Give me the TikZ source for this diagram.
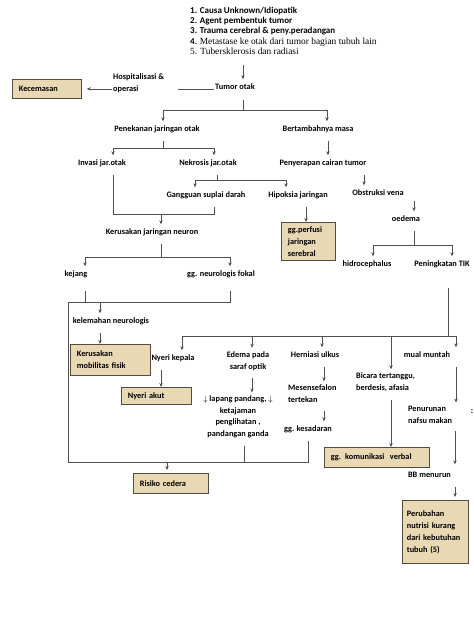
\documentclass[tikz,border=0pt]{standalone}
\usepackage{fontspec}
\setmainfont{Carlito}
\newfontfamily\serifku{Liberation Serif}
\usetikzlibrary{arrows.meta}
\definecolor{garis}{RGB}{80,80,80}
\definecolor{kotakisi}{RGB}{233,216,180}
\definecolor{kotakgaris}{RGB}{85,75,65}
\hyphenpenalty=10000
\exhyphenpenalty=10000

\begin{document}
\begin{tikzpicture}[x=1pt,y=-1pt,
  lbl/.style={font=\fontsize{8.3}{12}\selectfont\bfseries, inner xsep=1pt, inner ysep=3.5pt, text height=6pt, text depth=2pt},
  lblm/.style={font=\fontsize{8.3}{12}\selectfont\bfseries, inner xsep=1pt, inner ysep=3.5pt},
  kotak/.style={lblm, anchor=north west, draw=kotakgaris, fill=kotakisi, line width=0.8pt, inner xsep=6.5pt, align=left},
  ln/.style={draw=garis, line width=0.6pt},
  arr/.style={ln, -{Stealth[length=4pt,width=3.4pt]}},
  dari/.style={shorten <=4pt},
  kekotak/.style={shorten >=3pt}]
  \useasboundingbox (0,0) rectangle (474,632);
  % Sebab tumor
  \node[anchor=north west, inner sep=0pt, align=left, font=\fontsize{9}{10.2}\selectfont] (sebab) at (190,7)
    {\textbf{1. Causa Unknown/Idiopatik}\\ \textbf{2. Agent pembentuk tumor}\\
     \textbf{3. Trauma cerebral \& peny.peradangan}\\
     \textbf{4.} {\serifku\fontsize{9.4}{10.2}\selectfont Metastase ke otak dari tumor bagian tubuh lain}\\
     {\serifku\fontsize{9.4}{10.2}\selectfont 5. Tubersklerosis dan radiasi}};
  \node[lbl] (tumor) at (235,87) {Tumor otak};
  \node[lblm, align=left, anchor=west] (hosp) at (112,83) {Hospitalisasi \&\\operasi};
  \node[kotak, text width=56pt, minimum height=19pt] (cemas) at (12,79) {Kecemasan};
  \draw[arr, shorten <=10pt] (sebab.south -| 243,0) -- (tumor.north -| 243,0);
  \draw[ln] (tumor.base west) -- ++(-36,0);
  \draw[arr] (hosp.west |- cemas.east) -- ([xshift=5pt]cemas.east);
  % Cabang kiri
  \node[lbl] (pene) at (157,129) {Penekanan jaringan otak};
  \node[lbl] (masa) at (318,129) {Bertambahnya masa};
  \coordinate (j1) at (243,110);
  \draw[ln, shorten <=5pt] (tumor.south -| j1) -- (j1);
  \draw[arr] (j1) -| (pene.north -| 163,0);
  \draw[arr] (j1) -| (masa.north -| 327,0);
  \node[lbl] (invasi) at (102,163) {Invasi jar.otak};
  \node[lbl] (nekro) at (208,163) {Nekrosis jar.otak};
  \coordinate (j2) at (163,148);
  \draw[ln, dari] (pene.south -| j2) -- (j2);
  \draw[arr] (j2) -| (invasi.north -| 113,0);
  \draw[arr] (j2) -| (nekro.north -| 214,0);
  \node[lbl] (gang) at (206,195) {Gangguan suplai darah};
  \node[lbl] (hipo) at (298,195) {Hipoksia jaringan};
  \coordinate (j3) at (217,180);
  \draw[ln, dari] (nekro.south -| j3) -- (j3);
  \draw[arr] (j3) -| (gang.north -| 195,0);
  \draw[arr] (j3) -| (hipo.north -| 286,0);
  \node[kotak, text width=41pt, minimum height=38pt] (perfusi) at (281,222) {gg.perfusi\\jaringan\\serebral};
  \draw[arr, dari] (hipo.south -| 306,0) -- (perfusi.north -| 306,0);
  \node[lbl] (neuron) at (152,232) {Kerusakan jaringan neuron};
  \coordinate (j4) at (161,214);
  \draw[ln, dari] (invasi.south -| 113,0) |- (j4);
  \draw[ln, dari] (gang.south -| 214,0) |- (j4);
  \draw[arr] (j4) -- (neuron.north -| j4);
  \node[lbl] (kejang) at (76,274) {kejang};
  \node[lbl] (fokal) at (221,274) {gg. neurologis fokal};
  \coordinate (j5) at (161,257);
  \draw[ln, dari] (neuron.south -| j5) -- (j5);
  \draw[arr] (j5) -| (kejang.north -| 85,0);
  \draw[arr] (j5) -| (fokal.north -| 230,0);
  % Kurung besar
  \coordinate (k1) at (68,302);
  \coordinate (k2) at (68,462);
  \draw[ln, shorten <=9pt] (kejang.south -| 85,0) |- (k1);
  \draw[ln, shorten <=9pt] (fokal.south -| 230,0) |- (k1);
  \draw[ln] (k1) -- (k2);
  \node[lbl] (lemah) at (111,321) {kelemahan neurologis};
  \node[kotak, text width=67pt, minimum height=31pt] (mobil) at (70,344) {Kerusakan\\mobilitas fisik};
  \draw[arr] (k1 -| 100,0) -- (lemah.north -| 100,0);
  \draw[arr, dari] (lemah.south -| 100,0) -- (mobil.north -| 100,0);
  % Cabang peningkatan TIK
  \node[lbl] (serap) at (323,163) {Penyerapan cairan tumor};
  \node[lbl] (obstr) at (378,193) {Obstruksi vena};
  \node[lbl] (oedema) at (406,219) {oedema};
  \node[lbl] (hidro) at (367,264) {hidrocephalus};
  \node[lbl] (tik) at (442,264) {Peningkatan TIK};
  \draw[arr, dari] (masa.south -| 328,0) -- (serap.north -| 328,0);
  \draw[arr, dari] (serap.south -| 364,0) -- (obstr.north -| 364,0);
  \draw[arr] (obstr.south -| 414,0) -- (oedema.north -| 414,0);
  \coordinate (j7) at (414,245);
  \draw[ln, dari] (oedema.south -| j7) -- (j7);
  \draw[arr] (j7) -| (hidro.north -| 373,0);
  \draw[arr] (j7) -| (tik.north -| 452,0);
  \coordinate (m1) at (448,336);
  \draw[ln] ([yshift=-16pt]tik.south -| m1) -- (m1);
  \node[lbl] (nyeri) at (173,358) {Nyeri kepala};
  \node[lblm, align=center] (edema) at (248,361) {Edema pada\\saraf optik};
  \node[lbl] (hernia) at (315,355) {Herniasi ulkus};
  \node[lblm, align=left, anchor=west] (bicara) at (355,382.5) {Bicara tertanggu,\\berdesis, afasia};
  \node[lbl] (mual) at (427,355) {mual muntah};
  \draw[arr] (m1) -| (nyeri.north -| 182,0);
  \draw[arr] (m1) -| (edema.north -| 252,0);
  \draw[arr] (m1) -| (hernia.north -| 322,0);
  \draw[arr] (m1) -| (bicara.north -| 391,0);
  \draw[arr] (m1) -| (mual.north -| 456,0);
  \node[kotak, text width=57pt, minimum height=17pt] (akut) at (121,387) {Nyeri akut};
  \draw[arr, dari] (nyeri.south -| 161,0) -- (akut.north -| 161,0);
  \node[lblm, align=center, font=\fontsize{8.3}{11.5}\selectfont\bfseries] (pandang) at (238,417)
    {$\downarrow$ lapang pandang, $\downarrow$\\ketajaman\\penglihatan ,\\pandangan ganda};
  \draw[arr, dari] (edema.south -| 252,0) -- (pandang.north -| 252,0);
  \node[lblm, align=left, anchor=west] (mesen) at (287,394) {Mesensefalon\\tertekan};
  \node[lbl] (sadar) at (308,429) {gg. kesadaran};
  \draw[arr, dari] (hernia.south -| 324,0) -- (mesen.north -| 324,0);
  \draw[arr, dari] (mesen.south -| 324,0) -- (sadar.north -| 324,0);
  \draw[ln, dari] (pandang.south -| 244,0) |- (k2);
  \draw[ln, dari] (sadar.south -| 308,0) |- (k2);
  \node[kotak, text width=62pt, minimum height=20pt] (cedera) at (133,473) {Risiko cedera};
  \draw[arr, kekotak] (k2 -| 167,0) -- (cedera.north -| 167,0);
  \node[kotak, text width=92pt, minimum height=20pt] (verbal) at (324,447) {gg. komunikasi\ \ verbal};
  \draw[arr, dari] (bicara.south -| 391,0) -- (verbal.north -| 391,0);
  \node[lblm, align=left, anchor=west] (nafsu) at (407,415) {Penurunan\\nafsu makan};
  \node[lbl] (bb) at (429.5,475) {BB menurun};
  \node[kotak, text width=57pt, inner xsep=4.5pt, minimum height=63pt] (nutrisi) at (402,500) {Perubahan\\nutrisi kurang\\dari kebutuhan\\tubuh (5)};
  \draw[arr, dari] (mual.south -| 456,0) -- (nafsu.north -| 456,0);
  \draw[arr, dari, kekotak] (nafsu.south -| 455,0) -- (bb.north -| 455,0);
  \draw[arr, dari, kekotak] (bb.south -| 455,0) -- (nutrisi.north -| 455,0);
  \node[lbl] (titik) at (472,411) {:};
\end{tikzpicture}
\end{document}
